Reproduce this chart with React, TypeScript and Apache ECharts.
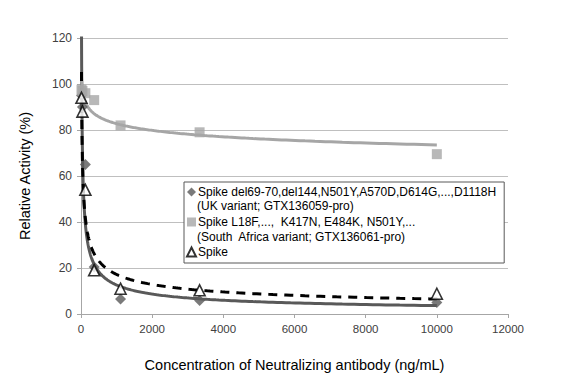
import React, { useEffect, useRef } from "react";
import * as echarts from "echarts";

// Concentrations of neutralizing antibody (ng/mL)
const concentrations = [13.7, 41, 123, 370, 1111, 3333, 10000];
// Relative activity (%)
const ukValues = [95, 90, 65, 20.4, 6.5, 5.9, 5];
const saValues = [97.5, 97, 96, 93, 82, 79, 69.5];
const spikeValues = [94, 88, 54, 19, 11, 10.3, 8.8];

const ukName = "Spike del69-70,del144,N501Y,A570D,D614G,...,D1118H";
const ukSub = "(UK variant; GTX136059-pro)";
const saName = "Spike L18F,...,  K417N, E484K, N501Y,...";
const saSub = "(South  Africa variant; GTX136061-pro)";
const spikeName = "Spike";

const xTicks = [0, 2000, 4000, 6000, 8000, 10000, 12000];
const yTicks = [0, 20, 40, 60, 80, 100, 120];

// Excel-style power trendline (least squares on ln x, ln y)
function powerTrend(xs: number[], ys: number[], n = 300) {
  const lx = xs.map(Math.log);
  const ly = ys.map(Math.log);
  const mx = lx.reduce((s, v) => s + v, 0) / lx.length;
  const my = ly.reduce((s, v) => s + v, 0) / ly.length;
  let sxy = 0;
  let sxx = 0;
  for (let i = 0; i < lx.length; i++) {
    sxy += (lx[i] - mx) * (ly[i] - my);
    sxx += (lx[i] - mx) * (lx[i] - mx);
  }
  const b = sxy / sxx;
  const a = Math.exp(my - b * mx);
  const lo = Math.log(Math.min(...xs));
  const hi = Math.log(Math.max(...xs));
  const pts: number[][] = [];
  for (let i = 0; i < n; i++) {
    const x = Math.exp(lo + ((hi - lo) * i) / (n - 1));
    pts.push([x, a * Math.pow(x, b)]);
  }
  return pts;
}

const pair = (ys: number[]) => concentrations.map((x, i) => [x, ys[i]]);

const FONT = "'Liberation Sans', Arial, sans-serif";
const LEGEND_FS = 12;

export default function App() {
  const ref = useRef<HTMLDivElement>(null);
  useEffect(() => {
    if (!ref.current) return;
    const chart = echarts.init(ref.current, null, { renderer: "svg" });
    chart.setOption({
      animation: false,
      backgroundColor: "#ffffff",
      textStyle: { fontFamily: FONT },
      grid: { left: 81, right: 74, top: 38, bottom: 68 },
      xAxis: {
        type: "value",
        min: xTicks[0],
        max: xTicks[xTicks.length - 1],
        interval: 2000,
        name: "Concentration of Neutralizing antibody (ng/mL)",
        nameLocation: "middle",
        nameGap: 43,
        nameTextStyle: { color: "#000", fontSize: 14.5, fontFamily: FONT },
        axisLine: { show: true, onZero: false, lineStyle: { color: "#a6a6a6", width: 1 } },
        axisTick: { show: true, length: 4, lineStyle: { color: "#a6a6a6" } },
        axisLabel: { color: "#404040", fontSize: 11.5, margin: 9, fontFamily: FONT, formatter: (v: number) => String(v) },
        splitLine: { show: false },
      },
      yAxis: {
        type: "value",
        min: yTicks[0],
        max: yTicks[yTicks.length - 1],
        interval: 20,
        name: "Relative Activity (%)",
        nameLocation: "middle",
        nameGap: 49,
        nameTextStyle: { color: "#000", fontSize: 14.5, fontFamily: FONT },
        axisLine: { show: true, lineStyle: { color: "#a6a6a6", width: 1 } },
        axisTick: { show: true, length: 4, lineStyle: { color: "#a6a6a6" } },
        axisLabel: { color: "#404040", fontSize: 12, margin: 9, fontFamily: FONT },
        splitLine: { show: true, lineStyle: { color: "#bfbfbf", width: 1 } },
      },
      legend: {
        orient: "vertical",
        left: 184,
        top: 182,
        padding: [3, 8, 4, 2],
        itemGap: 16,
        itemWidth: 9,
        itemHeight: 9,
        borderColor: "#595959",
        borderWidth: 1,
        backgroundColor: "#ffffff",
        textStyle: { color: "#000", fontSize: LEGEND_FS, lineHeight: 14, fontFamily: FONT, padding: [0, 0, 0, -3] },
        data: [ukName, saName, spikeName],
      },
      graphic: [
        { type: "text", left: 197, top: 200, silent: true, z: 100, style: { text: ukSub, fill: "#000", font: `${LEGEND_FS}px ${FONT}` } },
        { type: "text", left: 197, top: 231, silent: true, z: 100, style: { text: saSub, fill: "#000", font: `${LEGEND_FS}px ${FONT}` } },
      ],
      series: [
        {
          name: "uk-trend",
          type: "line",
          data: powerTrend(concentrations, ukValues),
          showSymbol: false,
          symbol: "none",
          lineStyle: { color: "#595959", width: 3 },
          z: 2,
          silent: true,
        },
        {
          name: "sa-trend",
          type: "line",
          data: powerTrend(concentrations, saValues),
          showSymbol: false,
          symbol: "none",
          lineStyle: { color: "#a6a6a6", width: 3 },
          z: 2,
          silent: true,
        },
        {
          name: "spike-trend",
          type: "line",
          data: powerTrend(concentrations, spikeValues),
          showSymbol: false,
          symbol: "none",
          lineStyle: { color: "#000000", width: 3, type: [9, 7] },
          z: 2,
          silent: true,
        },
        {
          name: ukName,
          type: "scatter",
          data: pair(ukValues),
          symbol: "diamond",
          symbolSize: 11,
          itemStyle: { color: "#595959" },
          z: 3,
        },
        {
          name: saName,
          type: "scatter",
          data: pair(saValues),
          symbol: "rect",
          symbolSize: 10,
          itemStyle: { color: "#a6a6a6" },
          z: 3,
        },
        {
          name: spikeName,
          type: "scatter",
          data: pair(spikeValues),
          symbol: "triangle",
          symbolSize: 11,
          itemStyle: { color: "#ffffff", borderColor: "#000000", borderWidth: 1.6 },
          z: 4,
        },
      ],
    });
    return () => chart.dispose();
  }, []);
  return <div ref={ref} style={{ width: 582, height: 382, position: "absolute", left: 0, top: 0 }} />;
}
